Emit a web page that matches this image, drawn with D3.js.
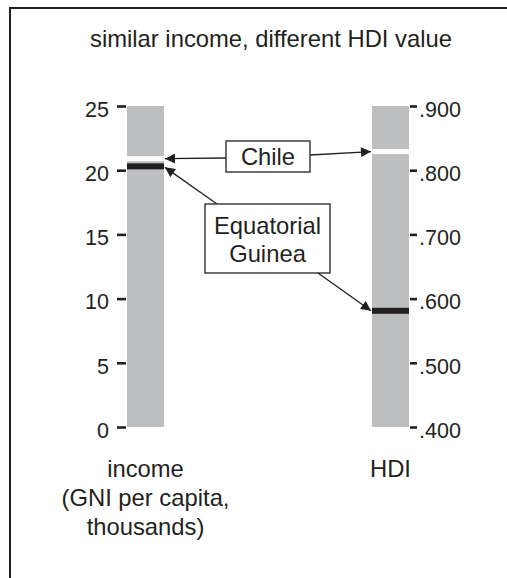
<!DOCTYPE html>
<html><head><meta charset="utf-8">
<script src="https://cdn.jsdelivr.net/npm/d3@7"></script>
<style>body{margin:0;background:#fff}svg{display:block}text{font-family:"Liberation Sans",Arial,sans-serif;fill:#231f20}</style>
</head><body>
<script>
const title = "similar income, different HDI value";
const countries = ["Chile", "Equatorial Guinea"];
const incomeValues = [20.9, 20.3];
const hdiValues = [0.829, 0.581];
const incomeTicks = [0, 5, 10, 15, 20, 25];
const hdiTicks = [0.4, 0.5, 0.6, 0.7, 0.8, 0.9];
const incomeLabel = ["income", "(GNI per capita,", "thousands)"];
const hdiLabel = ["HDI"];

const W = 507, H = 578;
const svg = d3.select("body").append("svg").attr("width", W).attr("height", H);
const ink = "#231f20", gray = "#bcbec0";
const FS = 23.8, TFS = 21.5;

// frame (continues beyond canvas)
svg.append("rect").attr("x", 10).attr("y", 8).attr("width", 520).attr("height", 600)
  .attr("fill", "none").attr("stroke", ink).attr("stroke-width", 2);

svg.append("text").attr("x", 271).attr("y", 47).attr("text-anchor", "middle")
  .attr("font-size", FS).text(title);

const yInc = d3.scaleLinear().domain([0, 25]).range([427, 106]);
const yHdi = d3.scaleLinear().domain([0.4, 0.9]).range([427, 106]);
const barL = {x0: 127, x1: 164}, barR = {x0: 372, x1: 409};

svg.append("rect").attr("x", barL.x0).attr("y", yInc(25)).attr("width", barL.x1 - barL.x0)
  .attr("height", yInc(0) - yInc(25)).attr("fill", gray);
svg.append("rect").attr("x", barR.x0).attr("y", yHdi(0.9)).attr("width", barR.x1 - barR.x0)
  .attr("height", yHdi(0.4) - yHdi(0.9)).attr("fill", gray);

const markColor = ["#ffffff", ink];
const markH = [5, 6];
countries.forEach((c, i) => {
  svg.append("rect").attr("x", barL.x0).attr("y", yInc(incomeValues[i]) - markH[i] / 2)
    .attr("width", barL.x1 - barL.x0).attr("height", markH[i]).attr("fill", markColor[i]);
  svg.append("rect").attr("x", barR.x0).attr("y", yHdi(hdiValues[i]) - markH[i] / 2)
    .attr("width", barR.x1 - barR.x0).attr("height", markH[i]).attr("fill", markColor[i]);
});

// axes
const axL = d3.axisLeft(yInc).tickValues(incomeTicks).tickSize(9).tickPadding(8);
const gL = svg.append("g").attr("transform", `translate(${barL.x0 - 1},0)`).call(axL);
const axR = d3.axisRight(yHdi).tickValues(hdiTicks).tickSize(7).tickPadding(2)
  .tickFormat(d => d3.format(".3f")(d).replace(/^0/, ""));
const gR = svg.append("g").attr("transform", `translate(${barR.x1 + 1},0)`).call(axR);
[gL, gR].forEach(g => {
  g.select(".domain").remove();
  g.selectAll(".tick line").attr("stroke", ink).attr("stroke-width", 2.6);
  g.selectAll(".tick text").attr("font-size", TFS).attr("fill", ink).attr("dy", "0.48em")
    .attr("font-family", '"Liberation Sans",Arial,sans-serif');
});

// axis labels
const cxL = (barL.x0 + barL.x1) / 2, cxR = (barR.x0 + barR.x1) / 2;
incomeLabel.forEach((t, i) => svg.append("text").attr("x", cxL).attr("y", 477 + i * 29)
  .attr("text-anchor", "middle").attr("font-size", FS).text(t));
hdiLabel.forEach((t, i) => svg.append("text").attr("x", cxR).attr("y", 477 + i * 29)
  .attr("text-anchor", "middle").attr("font-size", FS).text(t));

// arrowheads
const defs = svg.append("defs");
defs.append("marker").attr("id", "ah").attr("viewBox", "0 0 10 10").attr("refX", 10).attr("refY", 5)
  .attr("markerWidth", 12).attr("markerHeight", 10).attr("markerUnits", "userSpaceOnUse")
  .attr("orient", "auto").append("path").attr("d", "M0,0L10,5L0,10Z").attr("fill", ink);

function arrow(x1, y1, x2, y2) {
  svg.append("line").attr("x1", x1).attr("y1", y1).attr("x2", x2).attr("y2", y2)
    .attr("stroke", ink).attr("stroke-width", 1.3).attr("marker-end", "url(#ah)");
}

// Chile box
const cb = {x: 226, y: 141, w: 84, h: 31};
arrow(cb.x, 158, barL.x1 + 1, yInc(incomeValues[0]));
arrow(cb.x + cb.w, 155, barR.x0 - 1, yHdi(hdiValues[0]));
svg.append("rect").attr("x", cb.x).attr("y", cb.y).attr("width", cb.w).attr("height", cb.h)
  .attr("fill", "#fff").attr("stroke", ink).attr("stroke-width", 1.3);
svg.append("text").attr("x", cb.x + cb.w / 2).attr("y", 165).attr("text-anchor", "middle")
  .attr("font-size", FS).text(countries[0]);

// Equatorial Guinea box
const eb = {x: 205, y: 204, w: 125, h: 69};
arrow(217, eb.y, barL.x1 + 1, yInc(incomeValues[1]) + 1);
arrow(318, eb.y + eb.h, barR.x0 - 1, yHdi(hdiValues[1]));
svg.append("rect").attr("x", eb.x).attr("y", eb.y).attr("width", eb.w).attr("height", eb.h)
  .attr("fill", "#fff").attr("stroke", ink).attr("stroke-width", 1.3);
const egWords = countries[1].split(" ");
egWords.forEach((t, i) => svg.append("text").attr("x", eb.x + eb.w / 2).attr("y", 234 + i * 28)
  .attr("text-anchor", "middle").attr("font-size", FS).text(t));
</script>
</body></html>
